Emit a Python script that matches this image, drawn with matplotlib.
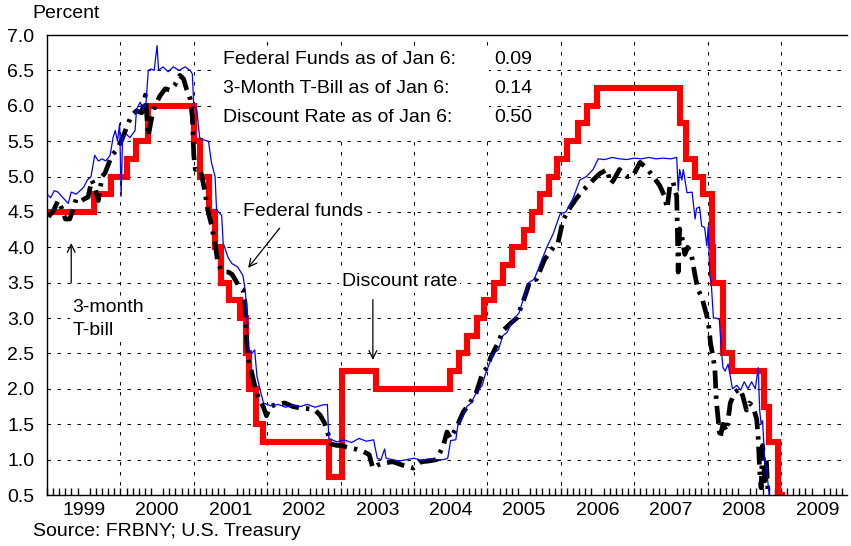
import numpy as np
import matplotlib.pyplot as plt
from matplotlib.patches import Rectangle
from matplotlib.ticker import FixedLocator

plt.rcParams['font.family'] = ['Liberation Sans', 'DejaVu Sans']
plt.rcParams['font.size'] = 14

# Discount rate: date of each change (decimal year) and the new rate
disc_dates = [1999.00, 1999.644, 1999.874, 2000.087, 2000.219, 2000.372,
              2001.005, 2001.008, 2001.082, 2001.214, 2001.293, 2001.367,
              2001.485, 2001.636, 2001.710, 2001.751, 2001.847, 2001.942,
              2002.847, 2003.022, 2003.479, 2004.495, 2004.607, 2004.721,
              2004.858, 2004.951, 2005.088, 2005.219, 2005.334, 2005.493,
              2005.603, 2005.718, 2005.833, 2005.948, 2006.082, 2006.236,
              2006.353, 2006.490, 2007.625, 2007.712, 2007.830, 2007.942,
              2008.057, 2008.079, 2008.205, 2008.211, 2008.328, 2008.768,
              2008.840, 2008.956, 2009.015]
disc_rates = [4.50, 4.75, 5.00, 5.25, 5.50, 6.00,
              5.75, 5.50, 5.00, 4.50, 4.00, 3.50,
              3.25, 3.00, 2.50, 2.00, 1.50, 1.25,
              0.75, 2.25, 2.00, 2.25, 2.50, 2.75,
              3.00, 3.25, 3.50, 3.75, 4.00, 4.25,
              4.50, 4.75, 5.00, 5.25, 5.50, 5.75,
              6.00, 6.25, 5.75, 5.25, 5.00, 4.75,
              4.00, 3.50, 3.25, 2.50, 2.25, 1.75,
              1.25, 0.50, 0.50]

# Federal funds
ff_dates = [1999.00, 1999.05, 1999.10, 1999.15, 1999.20, 1999.29, 1999.33,
            1999.40, 1999.45, 1999.50, 1999.55, 1999.60, 1999.65, 1999.70,
            1999.75, 1999.80, 1999.86, 1999.90, 1999.93, 1999.96, 1999.99,
            2000.01, 2000.03, 2000.08, 2000.13, 2000.20, 2000.22, 2000.27,
            2000.31, 2000.35, 2000.38, 2000.42, 2000.46, 2000.50, 2000.52,
            2000.58, 2000.65, 2000.72, 2000.80, 2000.88, 2000.95, 2000.98,
            2001.00, 2001.04, 2001.08, 2001.12, 2001.20, 2001.24, 2001.29,
            2001.31, 2001.38, 2001.40, 2001.47, 2001.52, 2001.60, 2001.67,
            2001.70, 2001.72, 2001.74, 2001.79, 2001.83, 2001.86, 2001.90,
            2001.95, 2002.05, 2002.15, 2002.25, 2002.35, 2002.45, 2002.55,
            2002.65, 2002.75, 2002.82, 2002.84, 2002.95, 2003.05, 2003.15,
            2003.25, 2003.35, 2003.45, 2003.50, 2003.55, 2003.60, 2003.62,
            2003.70, 2003.80, 2003.90, 2004.00, 2004.10, 2004.20, 2004.30,
            2004.40, 2004.46, 2004.50, 2004.57, 2004.60, 2004.66, 2004.72,
            2004.78, 2004.85, 2004.93, 2004.97, 2005.08, 2005.15, 2005.21,
            2005.27, 2005.35, 2005.43, 2005.50, 2005.56, 2005.64, 2005.74,
            2005.81, 2005.90, 2005.99, 2006.07, 2006.17, 2006.26, 2006.35,
            2006.44, 2006.51, 2006.60, 2006.70, 2006.80, 2006.90, 2007.00,
            2007.10, 2007.20, 2007.30, 2007.40, 2007.50, 2007.58, 2007.60,
            2007.62, 2007.65, 2007.67, 2007.72, 2007.79, 2007.83, 2007.85,
            2007.89, 2007.92, 2007.96, 2007.99, 2008.01, 2008.03, 2008.05,
            2008.08, 2008.12, 2008.16, 2008.19, 2008.21, 2008.24, 2008.28,
            2008.34, 2008.40, 2008.45, 2008.50, 2008.55, 2008.60, 2008.65,
            2008.69, 2008.71, 2008.73, 2008.75, 2008.78, 2008.80, 2008.85,
            2008.90, 2009.01]
ff_rates = [4.75, 4.70, 4.80, 4.78, 4.72, 4.62, 4.78,
            4.75, 4.80, 4.85, 4.95, 5.00, 5.30, 5.22,
            5.25, 5.22, 5.30, 5.55, 5.65, 5.50, 5.75,
            4.72, 5.55, 5.60, 5.55, 5.65, 5.95, 6.05,
            5.95, 6.05, 6.50, 6.52, 6.50, 6.85, 6.50,
            6.55, 6.48, 6.55, 6.50, 6.55, 6.50, 6.45,
            6.00, 5.95, 5.55, 5.52, 5.50, 5.20, 5.00,
            4.53, 4.45, 4.06, 3.85, 3.77, 3.72, 3.60,
            3.40, 3.15, 2.55, 2.50, 2.55, 2.18, 2.00,
            1.80, 1.76, 1.78, 1.74, 1.77, 1.75, 1.78,
            1.74, 1.77, 1.78, 1.30, 1.25, 1.28, 1.24,
            1.30, 1.26, 1.28, 1.02, 1.00, 1.15, 1.02,
            1.00, 0.98, 1.00, 1.02, 0.99, 1.01, 1.00,
            1.00, 1.02, 1.27, 1.28, 1.50, 1.60, 1.75,
            1.80, 1.95, 2.05, 2.20, 2.50, 2.55, 2.75,
            2.80, 2.97, 3.07, 3.30, 3.50, 3.55, 3.82,
            4.00, 4.20, 4.47, 4.50, 4.70, 4.95, 5.00,
            5.10, 5.25, 5.24, 5.27, 5.25, 5.24, 5.26,
            5.25, 5.27, 5.25, 5.26, 5.25, 5.27, 4.80,
            5.10, 4.95, 5.10, 4.77, 4.78, 4.40, 4.55,
            4.57, 4.30, 4.28, 4.02, 4.30, 3.60, 3.50,
            3.00, 3.00, 2.98, 2.53, 2.30, 2.25, 2.35,
            2.00, 2.05, 1.98, 2.10, 2.00, 2.10, 2.00,
            2.30, 1.70, 1.50, 1.55, 0.95, 0.90, 0.40,
            0.20, 0.09]

# 3-month T-bill
tb_dates = [1999.02, 1999.09, 1999.15, 1999.20, 1999.25, 1999.31, 1999.36,
            1999.40, 1999.47, 1999.52, 1999.56, 1999.61, 1999.65, 1999.70,
            1999.75, 1999.79, 1999.88, 1999.95, 2000.02, 2000.09, 2000.15,
            2000.22, 2000.29, 2000.34, 2000.38, 2000.43, 2000.47, 2000.54,
            2000.61, 2000.68, 2000.74, 2000.81, 2000.86, 2000.90, 2000.95,
            2000.98, 2001.00, 2001.02, 2001.06, 2001.10, 2001.15, 2001.19,
            2001.24, 2001.29, 2001.33, 2001.38, 2001.43, 2001.47, 2001.52,
            2001.56, 2001.63, 2001.67, 2001.70, 2001.72, 2001.74, 2001.79,
            2001.84, 2001.88, 2001.95, 2001.99, 2002.04, 2002.12, 2002.24,
            2002.35, 2002.45, 2002.55, 2002.65, 2002.72, 2002.78, 2002.83,
            2002.87, 2002.95, 2003.00, 2003.10, 2003.20, 2003.30, 2003.39,
            2003.44, 2003.50, 2003.58, 2003.71, 2003.85, 2003.99, 2004.10,
            2004.20, 2004.31, 2004.40, 2004.45, 2004.50, 2004.59, 2004.67,
            2004.76, 2004.85, 2004.94, 2005.00, 2005.04, 2005.13, 2005.22,
            2005.31, 2005.40, 2005.49, 2005.58, 2005.67, 2005.78, 2005.90,
            2005.96, 2006.03, 2006.10, 2006.22, 2006.30, 2006.44, 2006.53,
            2006.63, 2006.68, 2006.72, 2006.80, 2006.90, 2006.98, 2007.08,
            2007.17, 2007.26, 2007.35, 2007.41, 2007.45, 2007.49, 2007.53,
            2007.58, 2007.60, 2007.62, 2007.65, 2007.69, 2007.73, 2007.78,
            2007.83, 2007.87, 2007.92, 2007.96, 2008.01, 2008.04, 2008.08,
            2008.10, 2008.12, 2008.17, 2008.21, 2008.26, 2008.31, 2008.37,
            2008.44, 2008.48, 2008.53, 2008.57, 2008.62, 2008.67, 2008.69,
            2008.71, 2008.73, 2008.75, 2008.78, 2008.80, 2008.83, 2008.88,
            2008.95, 2009.01]
tb_rates = [4.43, 4.52, 4.66, 4.55, 4.40, 4.40, 4.55,
            4.69, 4.66, 4.69, 4.71, 4.95, 4.86, 4.66,
            5.00, 5.05, 5.29, 5.38, 5.52, 5.71, 5.86,
            5.93, 5.90, 6.15, 5.57, 5.85, 6.00, 6.14,
            6.24, 6.22, 6.29, 6.43, 6.38, 6.24, 6.10,
            5.85, 5.30, 5.10, 5.12, 5.05, 4.80, 4.53,
            4.32, 4.05, 3.77, 3.67, 3.65, 3.65, 3.62,
            3.55, 3.42, 3.40, 3.20, 2.70, 2.42, 2.23,
            2.00, 1.88, 1.74, 1.62, 1.75, 1.78, 1.80,
            1.75, 1.73, 1.72, 1.70, 1.63, 1.52, 1.36,
            1.22, 1.20, 1.20, 1.17, 1.15, 1.12, 1.07,
            0.88, 0.92, 0.95, 0.97, 0.92, 0.88, 0.97,
            0.98, 1.00, 1.20, 1.39, 1.30, 1.48, 1.67,
            1.80, 1.95, 2.24, 2.30, 2.43, 2.62, 2.83,
            2.92, 3.00, 3.24, 3.52, 3.55, 3.83, 4.00,
            4.05, 4.38, 4.52, 4.70, 4.80, 4.95, 5.04,
            5.10, 4.90, 4.95, 5.10, 5.00, 5.00, 5.20,
            5.12, 5.00, 4.87, 4.73, 4.55, 4.90, 4.92,
            4.72, 3.65, 4.26, 4.15, 3.90, 4.00, 3.90,
            3.60, 3.40, 3.30, 3.15, 2.95, 2.65, 2.42,
            2.27, 1.83, 1.30, 1.50, 1.40, 1.80, 1.95,
            2.00, 1.90, 1.70, 1.80, 1.75, 1.57, 1.30,
            0.85, 0.60, 1.20, 0.70, 1.00, 0.40, 0.05,
            0.02, 0.14]

years = [1999, 2000, 2001, 2002, 2003, 2004, 2005, 2006, 2007, 2008, 2009]
latest = [("Federal Funds as of Jan 6:", "0.09"),
          ("3-Month T-Bill as of Jan 6:", "0.14"),
          ("Discount Rate as of Jan 6:", "0.50")]

fig = plt.figure(figsize=(8.51, 5.46), dpi=100)
ax = fig.add_axes([47 / 851, 51 / 546, 800 / 851, 460 / 546])

grid_style = dict(color='black', linewidth=0.75, linestyle=(0, (3.3, 6.3)))

ax.plot(disc_dates, disc_rates, drawstyle='steps-post', color='#ff0000',
        linewidth=4.4, solid_joinstyle='miter', zorder=2)
ax.plot(tb_dates, tb_rates, color='black', linewidth=3.4,
        linestyle=(0, (3.8, 1.5, 0.7, 1.5)), dash_capstyle='butt', zorder=3)
ax.plot(ff_dates, ff_rates, color='#0000ff', linewidth=0.9, zorder=4)

ax.set_xlim(1999.0, 2009.9)
ax.set_ylim(0.5, 7.0)

# grid: horizontal at every half point, vertical at year boundaries
yt = np.arange(0.5, 7.01, 0.5)
ax.set_yticks(yt)
ax.set_yticklabels([f"{v:.1f}" for v in yt])
for v in yt[1:-1]:
    ax.axhline(v, zorder=0.5, **grid_style)
for yr in years[1:]:
    ax.axvline(yr, zorder=0.5, **grid_style)

ax.set_xticks([y + 0.5 for y in years])
ax.set_xticklabels([str(y) for y in years])
ax.xaxis.set_minor_locator(FixedLocator(np.arange(1999, 2010, 1 / 12)))
ax.tick_params(axis='x', which='major', length=0, pad=5)
ax.tick_params(axis='x', which='minor', direction='in', length=5, width=1)
ax.tick_params(axis='y', length=0, pad=9)

ax.spines['right'].set_visible(False)
for s in ['left', 'bottom', 'top']:
    ax.spines[s].set_linewidth(1.0)

# white panel behind the latest-values text
ax.add_patch(Rectangle((0.2075, 0.778), 0.345, 0.198, transform=ax.transAxes,
                       facecolor='white', edgecolor='none', zorder=1))
for i, (label, val) in enumerate(latest):
    yy = 0.9457 - i * 0.0620
    ax.text(0.22, yy, label, transform=ax.transAxes, ha='left', va='center', zorder=5)
    ax.text(0.607, yy, val, transform=ax.transAxes, ha='right', va='center', zorder=5,
            bbox=dict(facecolor='white', edgecolor='none', pad=1))

box = dict(facecolor='white', edgecolor='none', pad=2)
arrow = dict(arrowstyle='->', color='black', linewidth=0.9, shrinkA=0, shrinkB=0)
ax.text(2001.67, 4.5, "Federal funds", ha='left', va='center', zorder=5, bbox=box)
ax.annotate("", xy=(2001.74, 3.71), xytext=(2002.17, 4.27), arrowprops=arrow)
ax.text(1999.35, 3.27, "3-month\nT-bill", ha='left', va='top', zorder=5,
        linespacing=1.5, bbox=box)
ax.annotate("", xy=(1999.33, 4.06), xytext=(1999.33, 3.5), arrowprops=arrow)
ax.text(2003.02, 3.51, "Discount rate", ha='left', va='center', zorder=5, bbox=box)
ax.annotate("", xy=(2003.44, 2.41), xytext=(2003.44, 3.26), arrowprops=arrow)

fig.text(32 / 851, 1 - 13 / 546, "Percent", ha='left', va='center')
fig.text(33 / 851, 1 - 532 / 546, "Source: FRBNY; U.S. Treasury", ha='left', va='center')

fig.savefig("out.png", dpi=100)
